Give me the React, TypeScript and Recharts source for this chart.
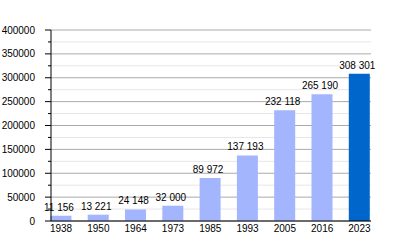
import { BarChart, Bar, XAxis, YAxis, CartesianGrid, Cell, LabelList } from 'recharts';

const years = ['1938', '1950', '1964', '1973', '1985', '1993', '2005', '2016', '2023'];
const population = [11156, 13221, 24148, 32000, 89972, 137193, 232118, 265190, 308301];

const majorTicks = [0, 50000, 100000, 150000, 200000, 250000, 300000, 350000, 400000];
const minorTicks = [25000, 75000, 125000, 175000, 225000, 275000, 325000, 375000];
const allTicks = [...majorTicks, ...minorTicks].sort((a, b) => a - b);

const LIGHT = '#a3b5fd';
const DARK = '#0066cc';
const FONT = '"Liberation Sans", Arial, sans-serif';

const TICK_SIZE = 6;
const TICK_MARGIN = 10;

const data = population.map((value, i) => ({ i, year: years[i], value }));

const fmt = (v: number) => String(v).replace(/\B(?=(\d{3})+(?!\d))/g, ' ');

function YTick(props: any) {
  const { x, y, payload } = props;
  const major = payload.value % 50000 === 0;
  const edge = x + TICK_MARGIN + TICK_SIZE;
  return (
    <g>
      <line x1={edge - (major ? TICK_SIZE : 3)} x2={edge} y1={y} y2={y} stroke="#000" />
      {major && (
        <text x={x} y={y} dy={3.5} textAnchor="end" fontSize={10} fill="#000" fontFamily={FONT}>
          {payload.value}
        </text>
      )}
    </g>
  );
}

function ValueLabel(props: any) {
  const { x, y, width, value } = props;
  return (
    <text
      x={x + width / 2 - 2}
      y={y - 5}
      textAnchor="middle"
      fontSize={10}
      fill="#000"
      fontFamily={FONT}
    >
      {fmt(Number(value))}
    </text>
  );
}

export default function App() {
  return (
    <div style={{ position: 'absolute', left: 0, top: 0, background: '#fff' }}>
      <BarChart
        width={400}
        height={250}
        data={data}
        margin={{ top: 30, right: 29, bottom: 0, left: 0 }}
      >
        <CartesianGrid vertical={false} horizontalValues={minorTicks} stroke="#e6e6e6" />
        <CartesianGrid vertical={false} horizontalValues={majorTicks} stroke="#aaaaaa" />
        <XAxis
          dataKey="i"
          type="number"
          height={29}
          domain={[-0.27, 8.31]}
          ticks={[0, 1, 2, 3, 4, 5, 6, 7, 8]}
          tickFormatter={(i: number) => years[i]}
          tickLine={false}
          tickSize={0}
          tickMargin={4}
          axisLine={{ stroke: '#000' }}
          tick={{ fontSize: 10, fill: '#000', fontFamily: FONT }}
          interval={0}
          allowDecimals={false}
        />
        <YAxis
          width={51}
          domain={[0, 400000]}
          ticks={allTicks}
          interval={0}
          tickLine={false}
          tickSize={TICK_SIZE}
          tickMargin={TICK_MARGIN}
          axisLine={{ stroke: '#000' }}
          tick={<YTick />}
        />
        <Bar dataKey="value" barSize={21} isAnimationActive={false}>
          {data.map((d, idx) => (
            <Cell key={d.year} fill={idx === data.length - 1 ? DARK : LIGHT} />
          ))}
          <LabelList dataKey="value" content={<ValueLabel />} />
        </Bar>
      </BarChart>
    </div>
  );
}
